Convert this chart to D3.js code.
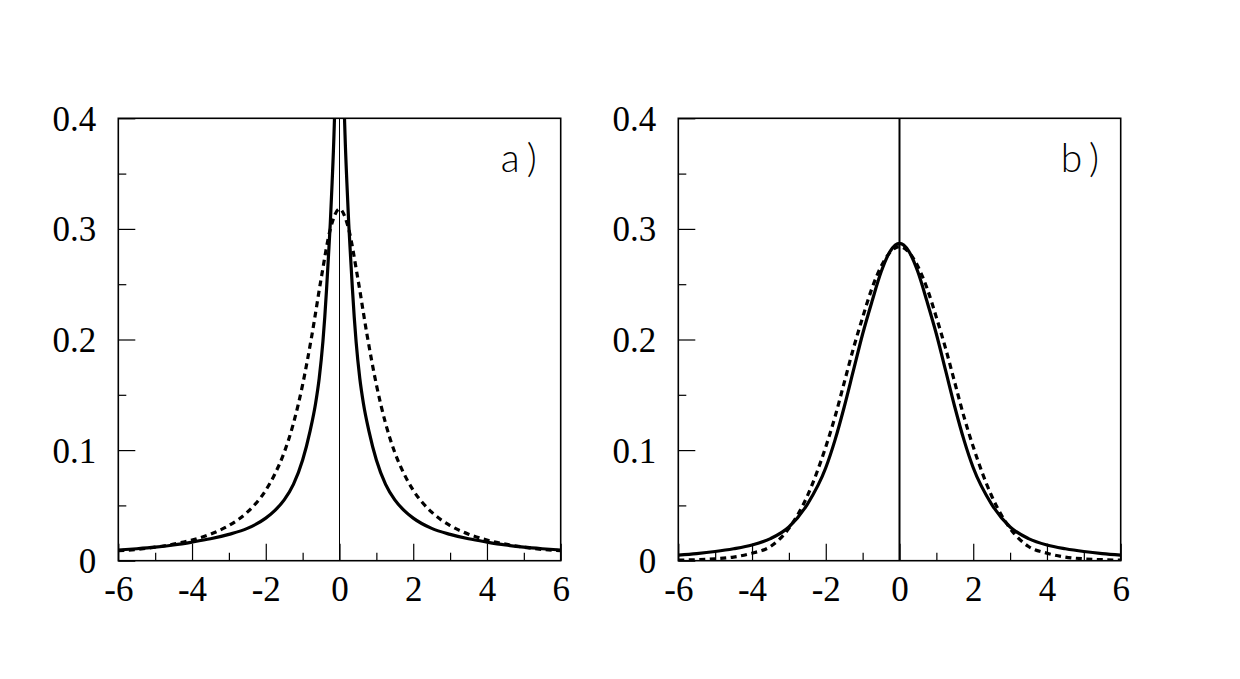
<!DOCTYPE html>
<html>
<head>
<meta charset="utf-8">
<script src="https://cdn.jsdelivr.net/npm/d3@7"></script>
<style>
  html, body { margin: 0; padding: 0; background: #fff; }
  svg { display: block; }
</style>
</head>
<body>
<div id="chart"></div>
<script>
// x grid for panel a, solid curve (cusp at 0, clipped at the top)
const xSolidA = [-6, -5.5, -5, -4.5, -4, -3.5, -3, -2.5, -2, -1.75, -1.5, -1.25, -1, -0.8, -0.65, -0.55,
  -0.45, -0.4, -0.35, -0.3, -0.25, -0.2, -0.15, -0.1, -0.06,
  0.06, 0.1, 0.15, 0.2, 0.25, 0.3, 0.35, 0.4, 0.45,
  0.55, 0.65, 0.8, 1, 1.25, 1.5, 1.75, 2, 2.5, 3, 3.5, 4, 4.5, 5, 5.5, 6];
const ySolidA = [0.0097, 0.0108, 0.0122, 0.0142, 0.0168, 0.0198, 0.0238, 0.0292, 0.0385, 0.0455, 0.055, 0.069, 0.091, 0.117, 0.142, 0.165,
  0.198, 0.22, 0.246, 0.275, 0.305, 0.342, 0.385, 0.45, 0.55,
  0.55, 0.45, 0.385, 0.342, 0.305, 0.275, 0.246, 0.22, 0.198,
  0.165, 0.142, 0.117, 0.091, 0.069, 0.055, 0.0455, 0.0385, 0.0292, 0.0238, 0.0198, 0.0168, 0.0142, 0.0122, 0.0108, 0.0097];

// common grid for the other three curves
const xGrid = [-6, -5.5, -5, -4.5, -4, -3.5, -3, -2.5, -2, -1.75, -1.5, -1.25, -1, -0.75, -0.5, -0.25, 0,
  0.25, 0.5, 0.75, 1, 1.25, 1.5, 1.75, 2, 2.5, 3, 3.5, 4, 4.5, 5, 5.5, 6];
const yDashA = [0.009, 0.0102, 0.0122, 0.015, 0.0187, 0.024, 0.0318, 0.0439, 0.0637, 0.0786, 0.0979, 0.1241, 0.1592, 0.2037, 0.2546, 0.2996, 0.318,
  0.2996, 0.2546, 0.2037, 0.1592, 0.1241, 0.0979, 0.0786, 0.0637, 0.0439, 0.0318, 0.024, 0.0187, 0.015, 0.0122, 0.0102, 0.009];
const ySolidB = [0.005, 0.0064, 0.0083, 0.0108, 0.0142, 0.02, 0.0305, 0.051, 0.084, 0.109, 0.139, 0.172, 0.205, 0.234, 0.261, 0.28, 0.287,
  0.28, 0.261, 0.234, 0.205, 0.172, 0.139, 0.109, 0.084, 0.051, 0.0305, 0.02, 0.0142, 0.0108, 0.0083, 0.0064, 0.005];
const yDashB = [0.0005, 0.0009, 0.0017, 0.0033, 0.0068, 0.0128, 0.0292, 0.0585, 0.103, 0.13, 0.161, 0.192, 0.22, 0.246, 0.266, 0.279, 0.284,
  0.279, 0.266, 0.246, 0.22, 0.192, 0.161, 0.13, 0.103, 0.0585, 0.0292, 0.0128, 0.0068, 0.0033, 0.0017, 0.0009, 0.0005];

const xMajor = [-6, -4, -2, 0, 2, 4, 6];
const xMinor = [-5, -3, -1, 1, 3, 5];
const yMajor = [0, 0.1, 0.2, 0.3, 0.4];
const yMinor = [0.05, 0.15, 0.25, 0.35];
const yLabels = ['0', '0.1', '0.2', '0.3', '0.4'];

const W = 1240, H = 679;
const size = 442.4;
const plotTop = 118.3;

const svg = d3.select('#chart').append('svg')
  .attr('width', W).attr('height', H)
  .attr('viewBox', `0 0 ${W} ${H}`);
svg.append('rect').attr('width', W).attr('height', H).attr('fill', '#fff');

const panels = [
  { id: 'a', left: 118.3, label: 'a)', zeroWidth: 1,
    series: [{ xs: xSolidA, ys: ySolidA, dash: null }, { xs: xGrid, ys: yDashA, dash: '6,4.5' }] },
  { id: 'b', left: 678.3, label: 'b)', zeroWidth: 2,
    series: [{ xs: xGrid, ys: ySolidB, dash: null }, { xs: xGrid, ys: yDashB, dash: '6,4.5' }] }
];

panels.forEach((p) => {
  const g = svg.append('g').attr('transform', `translate(${p.left},${plotTop})`);
  const x = d3.scaleLinear().domain([-6, 6]).range([0, size]);
  const y = d3.scaleLinear().domain([0, 0.4]).range([size, 0]);

  g.append('clipPath').attr('id', 'clip-' + p.id)
    .append('rect').attr('width', size).attr('height', size);

  // zero line
  g.append('line')
    .attr('x1', x(0)).attr('x2', x(0)).attr('y1', y(0)).attr('y2', y(0.4))
    .attr('stroke', '#000').attr('stroke-width', p.zeroWidth);

  // curves
  const line = d3.line().curve(d3.curveMonotoneX);
  p.series.forEach((s) => {
    g.append('path')
      .attr('clip-path', `url(#clip-${p.id})`)
      .attr('d', line(s.xs.map((v, i) => [x(v), y(s.ys[i])])))
      .attr('fill', 'none').attr('stroke', '#000').attr('stroke-width', 3.2)
      .attr('stroke-dasharray', s.dash);
  });

  // ticks pointing inward
  const xAx = g.append('g').attr('transform', `translate(0,${size})`)
    .call(d3.axisBottom(x).tickValues(xMajor).tickSize(-17).tickPadding(15).tickFormat(d3.format('d')));
  g.append('g').attr('transform', `translate(0,${size})`)
    .call(d3.axisBottom(x).tickValues(xMinor).tickSize(-8).tickFormat(''));
  const yAx = g.append('g')
    .call(d3.axisLeft(y).tickValues(yMajor).tickSize(-17).tickPadding(22).tickFormat((d, i) => yLabels[i]));
  g.append('g')
    .call(d3.axisLeft(y).tickValues(yMinor).tickSize(-8).tickFormat(''));

  g.selectAll('.domain').remove();
  g.selectAll('.tick line').attr('stroke', '#000').attr('stroke-width', 1.2);
  g.selectAll('.tick text')
    .attr('fill', '#000')
    .attr('font-family', '"Liberation Serif", "Times New Roman", serif')
    .attr('font-size', 35);
  xAx.selectAll('.tick text').text((d) => d < 0 ? '-' + Math.abs(d) : String(d));
  yAx.selectAll('.tick text').attr('dy', '0.34em');

  // frame
  g.append('rect').attr('width', size).attr('height', size)
    .attr('fill', 'none').attr('stroke', '#000').attr('stroke-width', 1.6);

  // panel label
  g.append('text')
    .attr('x', size - 60).attr('y', 54)
    .attr('font-family', 'Lato, "DejaVu Sans", sans-serif')
    .attr('font-weight', 300)
    .attr('font-size', 39)
    .attr('letter-spacing', 8)
    .attr('fill', '#000')
    .text(p.label);
});
</script>
</body>
</html>
